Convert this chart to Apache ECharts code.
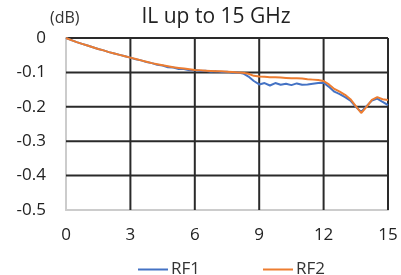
<!DOCTYPE html>
<html><head><meta charset="utf-8">
<script src="https://cdn.jsdelivr.net/npm/echarts@6/dist/echarts.min.js"></script>
<style>html,body{margin:0;padding:0;background:#fff}#c{width:401px;height:275px}</style>
</head><body><div id="c"></div>
<script>
const freqGHz = [0,0.25,0.5,0.75,1,1.25,1.5,1.75,2,2.25,2.5,2.75,3,3.25,3.5,3.75,4,4.25,4.5,4.75,5,5.25,5.5,5.75,6,6.25,6.5,6.75,7,7.25,7.5,7.75,8,8.25,8.5,8.75,9,9.25,9.5,9.75,10,10.25,10.5,10.75,11,11.25,11.5,11.75,12,12.25,12.5,12.75,13,13.25,13.5,13.75,14,14.25,14.5,14.75,15];
const rf1 = [0,-0.006,-0.012,-0.017,-0.022,-0.027,-0.032,-0.036,-0.041,-0.045,-0.049,-0.053,-0.057,-0.062,-0.065,-0.070,-0.073,-0.078,-0.080,-0.085,-0.086,-0.090,-0.090,-0.094,-0.093,-0.096,-0.095,-0.098,-0.097,-0.099,-0.098,-0.100,-0.100,-0.103,-0.112,-0.125,-0.135,-0.131,-0.138,-0.131,-0.136,-0.133,-0.137,-0.132,-0.136,-0.135,-0.133,-0.131,-0.130,-0.142,-0.156,-0.163,-0.172,-0.182,-0.200,-0.215,-0.198,-0.182,-0.176,-0.186,-0.195];
const rf2 = [0,-0.006,-0.012,-0.017,-0.022,-0.027,-0.032,-0.036,-0.041,-0.045,-0.049,-0.053,-0.057,-0.061,-0.065,-0.069,-0.073,-0.076,-0.079,-0.082,-0.085,-0.087,-0.089,-0.091,-0.093,-0.094,-0.095,-0.096,-0.097,-0.097,-0.098,-0.099,-0.100,-0.101,-0.104,-0.110,-0.112,-0.113,-0.114,-0.114,-0.115,-0.116,-0.117,-0.117,-0.118,-0.120,-0.121,-0.122,-0.125,-0.135,-0.148,-0.156,-0.165,-0.178,-0.198,-0.218,-0.200,-0.180,-0.172,-0.178,-0.180];
const xTicks = [0,3,6,9,12,15];
const yTicks = [0,-0.1,-0.2,-0.3,-0.4,-0.5];
const xMin = xTicks[0], xMax = xTicks[xTicks.length-1];
const yMin = yTicks[yTicks.length-1], yMax = yTicks[0];

const font = 'Open Sans';
const gridColor = '#2a2a2a';
const gridSeries = [];
xTicks.slice(1).forEach(v => gridSeries.push({
  type:'line', data:[[v,yMin],[v,yMax]], showSymbol:false, silent:true, z:1,
  lineStyle:{color:gridColor, width:2}, emphasis:{disabled:true}, tooltip:{show:false}
}));
yTicks.slice(0,-1).forEach(v => gridSeries.push({
  type:'line', data:[[xMin,v],[xMax,v]], showSymbol:false, silent:true, z:1,
  lineStyle:{color:gridColor, width:2}, emphasis:{disabled:true}, tooltip:{show:false}
}));

const chart = echarts.init(document.getElementById('c'), null, {renderer:'canvas'});
chart.setOption({
  animation:false,
  title:[
    {text:'IL up to 15 GHz', left:211, top:2, textAlign:'center', textStyle:{fontFamily:font, fontSize:21, fontWeight:'normal', color:'#222'}},
    {text:'(dB)', left:45, top:5, textStyle:{fontFamily:font, fontSize:16, fontWeight:'normal', color:'#333'}}
  ],
  legend:{
    left:133, top:256, itemWidth:30, itemHeight:2, itemGap:63, icon:'rect',
    textStyle:{fontFamily:font, fontSize:17, color:'#333', padding:[0,0,0,-2]},
    data:['RF1','RF2']
  },
  grid:{left:66, right:13, top:38, bottom:65},
  xAxis:{
    type:'value', min:xMin, max:xMax, interval:3,
    axisLine:{show:true, onZero:false, lineStyle:{color:'#cccccc', width:2}},
    axisTick:{show:false},
    axisLabel:{fontFamily:font, fontSize:17, color:'#222', margin:17},
    splitLine:{show:false}
  },
  yAxis:{
    type:'value', min:yMin, max:yMax, interval:0.1,
    axisLine:{show:true, onZero:false, lineStyle:{color:'#cccccc', width:2}},
    axisTick:{show:false},
    axisLabel:{fontFamily:font, fontSize:17, color:'#222', margin:20,
      formatter:v=>{const r=Math.round(v*10)/10; return r===0?'0':String(r);}},
    splitLine:{show:false}
  },
  series:[
    ...gridSeries,
    {name:'RF1', type:'line', data:freqGHz.map((f,i)=>[f,rf1[i]]), showSymbol:false,
      lineStyle:{color:'#4472C4', width:2}, itemStyle:{color:'#4472C4'}, z:3},
    {name:'RF2', type:'line', data:freqGHz.map((f,i)=>[f,rf2[i]]), showSymbol:false,
      lineStyle:{color:'#ED7D31', width:2}, itemStyle:{color:'#ED7D31'}, z:4}
  ]
});
</script></body></html>
